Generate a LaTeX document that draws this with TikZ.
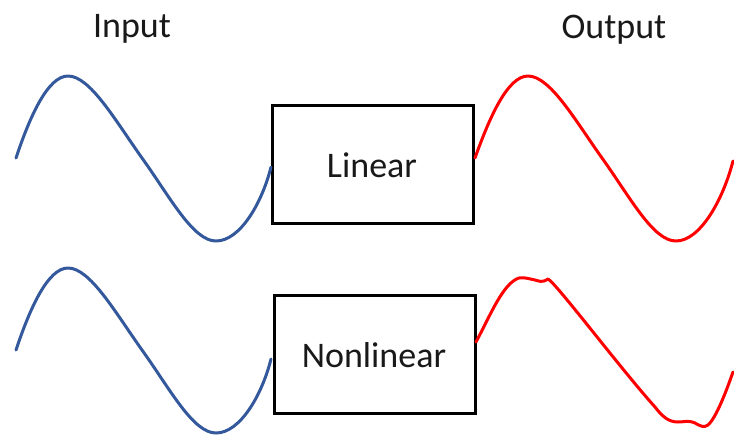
\documentclass[tikz,border=0pt]{standalone}
\usepackage{fontspec}
\setmainfont{Carlito}
\definecolor{wblue}{RGB}{52,88,156}
\definecolor{wred}{RGB}{255,0,0}
\definecolor{txt}{RGB}{25,25,25}
\begin{document}
\begin{tikzpicture}[x=1pt,y=-1pt,
  sysbox/.style={draw=black,line width=3pt,minimum width=201pt,minimum height=118pt,inner sep=0pt},
  lbl/.style={font=\fontsize{36}{40}\selectfont,text=txt,anchor=base,inner sep=0pt},
  inwave/.style={wblue,line width=3pt,line cap=round,line join=round},
  outwave/.style={wred,line width=3pt,line cap=round,line join=round}]
\useasboundingbox (0,0) rectangle (734,437);
\fill[white] (0,0) rectangle (734,437);
% labels
\node[lbl] (inlbl) at (132,37) {Input};
\node[lbl] (outlbl) at (614,38) {Output};
% boxes
\node[sysbox] (lin) at (373,164.5) {};
\node[lbl] (lintxt) at (372,177) {Linear};
\node[sysbox] (nonlin) at (375,354.5) {};
\node[lbl] (nonlintxt) at (374,367) {Nonlinear};
% input waves
\foreach \dy in {0,192}{
  \draw[inwave,shift={(0,\dy)}]
    (16,158) .. controls (30,116) and (48,76) .. (68,76)
    .. controls (90,76) and (115,120) .. (142,158)
    .. controls (170,197) and (193,241) .. (216,241)
    .. controls (240,241) and (262,203) .. (271,167);
}
% linear output
\draw[outwave]
    (475,158) .. controls (490,116) and (508,76) .. (528,76)
    .. controls (550,76) and (575,120) .. (602,158)
    .. controls (630,197) and (653,241) .. (676,241)
    .. controls (700,241) and (723,200) .. (733,161);
% nonlinear output
\draw[outwave]
    (476,342) .. controls (490,316) and (503,283) .. (519,278)
    .. controls (524,277) and (530,279) .. (535,280)
    .. controls (539,281) and (542,283) .. (548,279)
    .. controls (556,283) and (620,368) .. (655,407)
    .. controls (662,416) and (668,422) .. (678,422)
    .. controls (685,422) and (688,420) .. (695,423)
    .. controls (700,426) and (704,428) .. (708,425)
    .. controls (716,418) and (726,392) .. (733,372);
\end{tikzpicture}
\end{document}
